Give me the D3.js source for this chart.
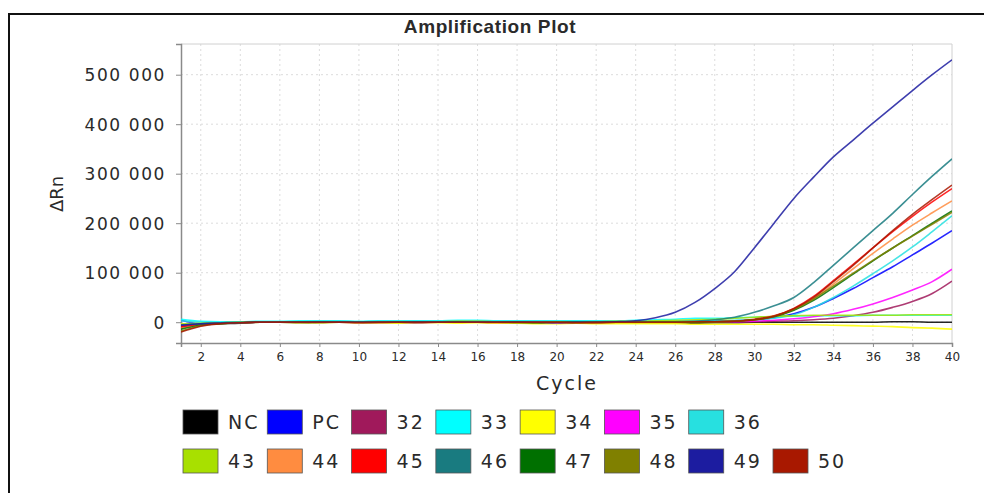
<!DOCTYPE html>
<html>
<head>
<meta charset="utf-8">
<script src="https://cdn.jsdelivr.net/npm/d3@7"></script>
<style>
    body { margin: 0; background: #fff; }
    text { font-family: "DejaVu Sans", Verdana, sans-serif; fill: #2a2a2a; }
</style>
</head>
<body>
<div id="chart"></div>
<script>
    const cycles = [1, 2, 3, 4, 5, 6, 7, 8, 9, 10, 11, 12, 13, 14, 15, 16, 17, 18, 19, 20,
        21, 22, 23, 24, 25, 26, 27, 28, 29, 30, 31, 32, 33, 34, 35, 36, 37, 38, 39, 40];

    const samples = ["NC", "PC", "32", "33", "34", "35", "36", "43", "44", "45", "46", "47", "48", "49", "50"];

    const colors = ["#000000", "#0000ff", "#a0195b", "#00ffff", "#ffff00", "#ff00ff", "#27e0e0",
        "#a8e000", "#ff8c40", "#ff0000", "#197b80", "#007000", "#808000", "#1c1ca0", "#a81800"];

    // delta Rn, in thousands
    const nc  = [-8, -4, -3, -2, 0, 0, -1, 0, 1, 0, -1, -1, 0, 0, 1, 0, -1, -1, -2, -1, -2, -2, -1, -1, -1, -1, -2, -1, -1, 0, 0, 0, 0, 0, 0, 0, 1, 1, 0, 0];
    const pc  = [4, -3, -2, -1, 0, 0, 0, 1, 0, 0, 0, 0, 1, 1, 1, 0, 0, 0, 0, 0, 0, 0, 0, 1, 1, 1, 1, 2, 3, 5, 9, 17, 30, 48, 68, 90, 112, 136, 160, 185];
    const s32 = [-10, -4, -2, -1, 0, 0, 1, 0, 0, -1, 0, 0, 0, 1, 0, 0, 0, -1, 0, 0, -1, 0, 0, 0, 0, 0, 0, 1, 1, 1, 2, 3, 5, 8, 13, 20, 30, 42, 58, 83];
    const s33 = [6, 2, 1, 1, 2, 2, 3, 3, 3, 2, 3, 3, 3, 3, 4, 4, 3, 3, 3, 3, 3, 3, 3, 4, 5, 6, 8, 8, 9, 10, 11, 12, 13, 13, 13, 14, 14, 14, 14, 14];
    const s34 = [-3, -2, -1, -1, 0, 0, -1, -1, 0, -1, -1, -2, -1, -1, -2, -1, -2, -2, -3, -3, -2, -3, -3, -3, -3, -3, -4, -4, -4, -4, -4, -5, -5, -6, -7, -8, -9, -11, -12, -14];
    const s35 = [-6, -3, -2, -1, 0, 0, 0, 0, 1, 0, 0, 0, -1, 0, 0, 1, 0, 0, 0, -1, 0, 0, 0, 0, 0, 0, 0, 1, 1, 2, 4, 7, 11, 17, 26, 37, 50, 65, 82, 107];
    const s36 = [3, 0, -1, 0, 1, 1, 1, 2, 2, 1, 2, 2, 2, 2, 3, 3, 2, 2, 2, 2, 2, 2, 2, 3, 3, 3, 3, 3, 4, 5, 8, 15, 30, 50, 73, 98, 124, 152, 183, 215];
    const s43 = [-4, -2, -1, 0, 0, 1, 1, 1, 1, 0, 1, 1, 1, 1, 2, 2, 1, 1, 1, 1, 1, 1, 2, 2, 3, 4, 5, 6, 8, 10, 12, 13, 14, 14, 14, 14, 14, 15, 15, 15];
    const s44 = [-12, -5, -2, -1, 0, 0, 0, 0, 0, 0, -1, 0, 0, 0, 0, 0, -1, 0, 0, 0, -1, -1, 0, 0, 0, 0, 1, 1, 2, 5, 11, 25, 47, 77, 108, 139, 168, 196, 221, 245];
    const s45 = [-9, -4, -2, -1, 0, 0, 0, 0, 1, 0, 0, 0, 0, 0, 0, 0, 0, 0, 0, 0, 0, -1, 0, 0, 0, 0, 1, 1, 2, 6, 13, 28, 52, 84, 117, 150, 183, 214, 243, 270];
    const s46 = [-5, -3, -1, 0, 0, 0, 1, 1, 1, 0, 0, 1, 1, 1, 1, 1, 0, 0, 0, 0, 0, 0, 1, 1, 1, 1, 2, 5, 10, 20, 33, 50, 80, 115, 150, 185, 220, 258, 295, 330];
    const s47 = [-14, -6, -3, -1, 0, 0, 0, 0, 0, 0, 0, 0, 0, 0, 1, 0, 0, 0, -1, 0, 0, 0, 0, 0, 0, 0, 0, 1, 2, 5, 11, 24, 44, 70, 97, 124, 150, 175, 200, 225];
    const s48 = [-18, -7, -3, -1, 0, 0, 0, -1, 0, 0, 0, 0, -1, 0, 0, 0, 0, -1, -1, 0, -1, -1, 0, 0, 0, 0, 1, 1, 2, 5, 12, 26, 47, 73, 99, 125, 150, 174, 198, 222];
    const s49 = [-6, -3, -2, -1, 0, 0, 0, 0, 0, 0, 0, 0, 0, 0, 0, 0, 0, 0, 0, -1, 0, 0, 1, 3, 9, 20, 40, 68, 102, 150, 200, 250, 293, 334, 368, 402, 435, 468, 500, 530];
    const s50 = [-20, -8, -3, -1, 0, 0, 0, 0, 0, -1, 0, 0, 0, 0, 0, 0, 0, 0, 0, 0, -1, 0, 0, 0, 0, 0, 1, 1, 2, 5, 12, 27, 50, 82, 115, 150, 185, 218, 248, 277];

    const series = [nc, pc, s32, s33, s34, s35, s36, s43, s44, s45, s46, s47, s48, s49, s50];

    const xTicks = [2, 4, 6, 8, 10, 12, 14, 16, 18, 20, 22, 24, 26, 28, 30, 32, 34, 36, 38, 40];
    const yTicks = [0, 100, 200, 300, 400, 500];

    const w = 984;
    const h = 493;
    const pLeft = 181, pRight = 952, pTop = 44, pBottom = 343;

    const svg = d3.select("#chart")
        .append("svg")
        .attr("width", w)
        .attr("height", h)

    // outer frame
    svg.append("rect")
        .attr("x", 9)
        .attr("y", 14)
        .attr("width", 1000)
        .attr("height", 600)
        .attr("fill", "none")
        .attr("stroke", "#111")
        .attr("stroke-width", 2)

    svg.append("text")
        .attr("x", 490)
        .attr("y", 33)
        .attr("text-anchor", "middle")
        .style("font-family", "'Liberation Sans', Arial, sans-serif")
        .style("font-weight", "bold")
        .style("font-size", "19px")
        .style("letter-spacing", "0.6px")
        .text("Amplification Plot")

    var xScale = d3.scaleLinear()
        .domain([1, 40])
        .range([pLeft, pRight])

    var yScale = d3.scaleLinear()
        .domain([-42, 562])
        .range([pBottom, pTop])

    // grid
    svg.append("g")
        .selectAll("line")
        .data(xTicks.filter(d => d < 40))
        .enter()
        .append("line")
        .attr("x1", d => xScale(d))
        .attr("x2", d => xScale(d))
        .attr("y1", pTop)
        .attr("y2", pBottom)
        .attr("stroke", "#dcdcdc")
        .attr("stroke-dasharray", "2,3")

    svg.append("g")
        .selectAll("line")
        .data(yTicks)
        .enter()
        .append("line")
        .attr("x1", pLeft)
        .attr("x2", pRight)
        .attr("y1", d => yScale(d))
        .attr("y2", d => yScale(d))
        .attr("stroke", "#dcdcdc")
        .attr("stroke-dasharray", "2,3")

    // plot frame (top / right)
    svg.append("path")
        .attr("d", `M${pLeft},${pTop}H${pRight}V${pBottom}`)
        .attr("fill", "none")
        .attr("stroke", "#d0d0d0")

    const fmt = d => d === 0 ? "0" : d3.format(",")(d * 1000).replace(/,/g, " ")

    const yAxis = svg.append("g")
        .attr("transform", `translate(${pLeft},0)`)
        .call(d3.axisLeft(yScale).tickValues(yTicks).tickSize(5).tickPadding(10).tickFormat(fmt))
    yAxis.select(".domain").attr("stroke", "#8a8a8a").attr("stroke-width", 1.5)
    yAxis.selectAll(".tick line").attr("stroke", "#8a8a8a")
    yAxis.selectAll(".tick text")
        .attr("fill", "#2a2a2a")
        .style("font-family", "'DejaVu Sans', sans-serif")
        .style("font-size", "17px")
        .style("letter-spacing", "1.6px")
        .attr("dy", "0.36em")

    const xAxis = svg.append("g")
        .attr("transform", `translate(0,${pBottom})`)
        .call(d3.axisBottom(xScale).tickValues(xTicks).tickSize(4).tickPadding(5).tickFormat(d => d))
    xAxis.select(".domain").attr("stroke", "#8a8a8a").attr("stroke-width", 1.5)
    xAxis.selectAll(".tick line").attr("stroke", "#8a8a8a")
    xAxis.selectAll(".tick text")
        .attr("fill", "#333")
        .style("font-family", "'DejaVu Sans', sans-serif")
        .style("font-size", "12px")

    svg.append("text")
        .attr("transform", "translate(63,194) rotate(-90)")
        .attr("text-anchor", "middle")
        .style("font-size", "18px")
        .text("\u0394Rn")

    svg.append("text")
        .attr("x", 567)
        .attr("y", 390)
        .attr("text-anchor", "middle")
        .style("font-size", "19px")
        .style("letter-spacing", "2px")
        .text("Cycle")

    // curves
    svg.append("clipPath")
        .attr("id", "plot")
        .append("rect")
        .attr("x", pLeft)
        .attr("y", pTop)
        .attr("width", pRight - pLeft)
        .attr("height", pBottom - pTop)

    const line = d3.line()
        .x((d, i) => xScale(cycles[i]))
        .y(d => yScale(d))
        .curve(d3.curveMonotoneX)

    svg.append("g")
        .attr("clip-path", "url(#plot)")
        .selectAll("path")
        .data(series)
        .enter()
        .append("path")
        .attr("d", d => line(d))
        .attr("fill", "none")
        .attr("stroke", (d, i) => colors[i])
        .attr("stroke-width", 1.6)
        .attr("stroke-opacity", 0.85)

    // legend: 7 in first row, 8 in second
    var legX = d3.scaleLinear()
        .domain([0, 7])
        .range([183, 773])

    const legend = svg.append("g")
        .selectAll("g")
        .data(samples)
        .enter()
        .append("g")
        .attr("transform", (d, i) => {
            const row = i < 7 ? 0 : 1
            const col = i < 7 ? i : i - 7
            return `translate(${legX(col)},${row ? 449 : 410})`
        })

    legend.append("rect")
        .attr("width", 35)
        .attr("height", 24)
        .attr("fill", (d, i) => colors[i])
        .attr("stroke", "#555")
        .attr("stroke-width", 0.8)

    legend.append("text")
        .attr("x", 45)
        .attr("y", 19)
        .style("font-size", "19px")
        .style("letter-spacing", "2px")
        .text(d => d)
</script>
</body>
</html>
